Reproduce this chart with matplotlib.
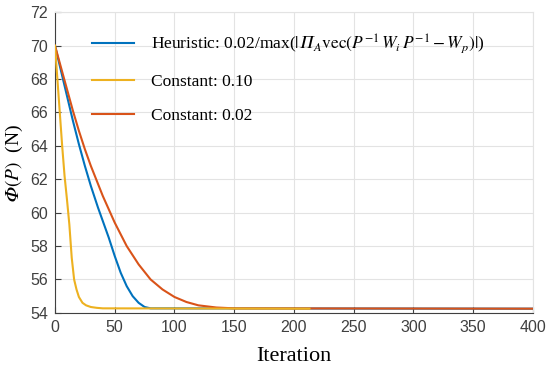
import matplotlib
matplotlib.use('Agg')
import matplotlib.pyplot as plt

plt.rcParams['mathtext.fontset'] = 'stix'

heur_it = [0, 5, 10, 15, 20, 25, 30, 36, 40, 45, 50, 55, 60, 65, 70, 75, 80, 400]
heur_val = [70, 68.5, 67.0, 65.5, 64.1, 62.8, 61.6, 60.3, 59.5, 58.5, 57.4, 56.4,
            55.6, 55.0, 54.6, 54.35, 54.27, 54.25]

c10_it = [0, 2, 4, 6, 8, 10, 12, 14, 16, 18, 20, 23, 26, 30, 35, 40, 213]
c10_val = [70, 68.0, 66.0, 64.0, 62.2, 60.8, 59.3, 57.3, 56.0, 55.4, 54.95, 54.6,
           54.45, 54.35, 54.3, 54.27, 54.25]

c02_it = [0, 5, 10, 15, 20, 25, 30, 35, 40, 45, 50, 55, 60, 70, 80, 90, 100, 110,
          120, 135, 150, 400]
c02_val = [70, 68.7, 67.4, 66.1, 64.9, 63.8, 62.8, 61.9, 61.0, 60.2, 59.4, 58.7,
           58.0, 56.9, 56.0, 55.4, 54.95, 54.65, 54.45, 54.32, 54.27, 54.25]

labels = ['Heuristic: 0.02/max($|𝛱_A\\mathrm{vec}(P^{-1}\\,W_i\\,P^{-1}-W_p)|$)',
          'Constant: 0.10', 'Constant: 0.02']
colors = ['#0072BD', '#EDB120', '#D95319']

fig = plt.figure(figsize=(5.5, 3.72), dpi=100)
ax = fig.add_axes([0.1, 0.159, 0.869, 0.808])

l1, = ax.plot(heur_it, heur_val, color=colors[0], lw=1.5, zorder=2)
l3, = ax.plot(c02_it, c02_val, color=colors[2], lw=1.5, zorder=3)
l2, = ax.plot(c10_it, c10_val, color=colors[1], lw=1.5, zorder=4)

ax.set_xlim(0, 400)
ax.set_ylim(54, 72)
ax.set_xticks(range(0, 401, 50))
ax.set_yticks(range(54, 73, 2))
ax.grid(True, color='#e3e3e3', lw=0.8)
ax.set_axisbelow(True)
ax.tick_params(direction='in', labelsize=11.5, colors='#404040', length=4, pad=5)
for lab in ax.get_xticklabels() + ax.get_yticklabels():
    lab.set_fontfamily('Liberation Sans')
for s in ['top', 'right']:
    ax.spines[s].set_color('#e3e3e3')
for s in ['left', 'bottom']:
    ax.spines[s].set_color('#404040')

ax.set_xlabel('Iteration', fontfamily='Liberation Serif', fontsize=16, labelpad=9)
ax.set_ylabel('$𝛷(P)$  (N)', fontfamily='Liberation Serif', fontsize=14)

ax.legend([l1, l2, l3], labels, loc='upper left', bbox_to_anchor=(0.045, 0.985),
          frameon=False, handlelength=2.4, handletextpad=1.0, labelspacing=1.05,
          prop={'family': 'Liberation Serif', 'size': 12.5})

fig.savefig('out.png', dpi=100)
